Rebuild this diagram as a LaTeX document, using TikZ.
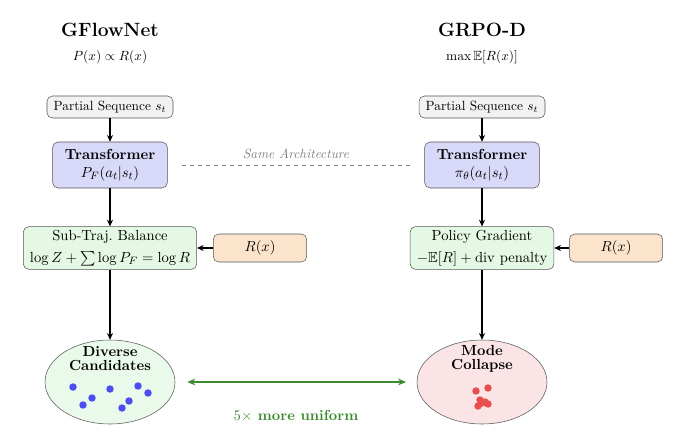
\documentclass[11pt,tikz,border=0pt]{standalone}
\usepackage{amsmath,amssymb}
\usetikzlibrary{shapes.geometric,arrows.meta}

\definecolor{seqfill}{HTML}{F2F2F2}
\definecolor{tffill}{HTML}{D8D8F8}
\definecolor{lossfill}{HTML}{E4F8E4}
\definecolor{rfill}{HTML}{FCE4CC}
\definecolor{divfill}{HTML}{EAFAEA}
\definecolor{colfill}{HTML}{FBE4E6}
\definecolor{dotblue}{HTML}{4C4CF0}
\definecolor{dotred}{HTML}{E84E4E}
\definecolor{unigreen}{HTML}{3C8A2E}
\definecolor{edgegray}{HTML}{555555}

\begin{document}
\begin{tikzpicture}[x=0.75pt,y=-0.75pt,
  box/.style={draw=edgegray,rounded corners=4pt,align=center,inner xsep=5pt},
  seqbox/.style={box,fill=seqfill,font=\small,minimum height=16.5pt,inner ysep=2pt},
  tfbox/.style={box,fill=tffill,minimum width=86pt,minimum height=34.5pt},
  lossbox/.style={box,fill=lossfill,minimum height=32pt,inner ysep=0pt},
  rbox/.style={box,fill=rfill,minimum width=70pt,minimum height=21pt},
  outell/.style={draw=edgegray,ellipse,minimum width=97.5pt,minimum height=63pt},
  flow/.style={thick,-{Stealth[length=5pt,width=4.5pt]}}]
\useasboundingbox (0,0) rectangle (680,445);

% GFlowNet side
\node[font=\Large\bfseries] (gftitle) at (110,30) {GFlowNet};
\node[font=\small] (gfobj) at (110,57) {$P(x)\propto R(x)$};
\node[seqbox] (gfseq) at (110,107) {Partial Sequence $s_t$};
\node[tfbox] (gftf) at (110,165) {\textbf{Transformer}\\$P_F(a_t|s_t)$};
\node[lossbox] (gfloss) at (110,248) {Sub-Traj.\ Balance\\[2.5pt]$\log Z+\sum\log P_F=\log R$};
\node[rbox] (gfr) at (260,248) {$R(x)$};
\node[outell,fill=divfill] (gfout) at (110,382) {};
\node[font=\bfseries,align=center,inner sep=0pt] (gfoutlbl) at (110,359) {Diverse\\[-3pt]Candidates};
\foreach \dx/\dy in {-37/5,-27/23,-18/16,0/7,12/26,19/19,28/4,38/11}
  \fill[dotblue] ([shift={(\dx,\dy)}]gfout.center) circle (2.8pt);

% GRPO-D side
\node[font=\Large\bfseries] (grtitle) at (482,30) {GRPO-D};
\node[font=\small] (grobj) at (482,57) {$\max\mathbb{E}[R(x)]$};
\node[seqbox] (grseq) at (482,107) {Partial Sequence $s_t$};
\node[tfbox] (grtf) at (482,165) {\textbf{Transformer}\\$\pi_\theta(a_t|s_t)$};
\node[lossbox] (grloss) at (482,248) {Policy Gradient\\[2.5pt]$-\mathbb{E}[R]+\text{div penalty}$};
\node[rbox] (grr) at (616,248) {$R(x)$};
\node[outell,fill=colfill] (grout) at (482,382) {};
\node[font=\bfseries,align=center,inner sep=0pt] (groutlbl) at (482,359) {Mode\\[-3pt]Collapse};
\foreach \dx/\dy in {-6/9,6/6,-2/18,3/20,6/22,-4/24,0/21}
  \fill[dotred] ([shift={(\dx,\dy)}]grout.center) circle (2.8pt);

% arrows
\draw[flow] (gfseq) -- (gftf);
\draw[flow] (gftf) -- (gfloss);
\draw[flow] (gfr) -- (gfloss);
\draw[flow] (gfloss) -- (gfout);
\draw[flow] (grseq) -- (grtf);
\draw[flow] (grtf) -- (grloss);
\draw[flow] (grr) -- (grloss);
\draw[flow] (grloss) -- (grout);

% shared architecture
\draw[gray,dashed,semithick,shorten <=11pt,shorten >=11pt] (gftf) -- (grtf)
  node[midway,above=1pt,font=\small\itshape,text=gray] (same) {Same Architecture};

% comparison
\draw[unigreen,thick,{Stealth[length=6pt,width=5pt]}-{Stealth[length=6pt,width=5pt]},
  shorten <=9pt,shorten >=8pt] (gfout) -- (grout)
  node[midway,below=17pt,font=\bfseries] (uni) {$5\times$ more uniform};
\end{tikzpicture}
\end{document}
